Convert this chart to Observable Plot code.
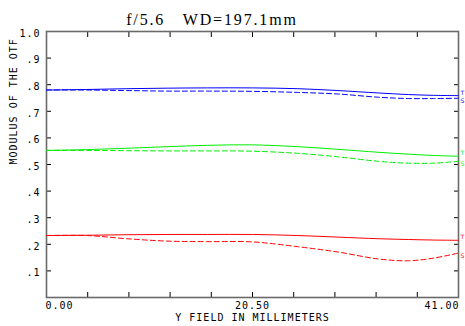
<!DOCTYPE html>
<html>
<head>
<meta charset="utf-8">
<script src="https://cdn.jsdelivr.net/npm/d3@7"></script>
<script src="https://cdn.jsdelivr.net/npm/@observablehq/plot@0.6"></script>
<style>
html,body{margin:0;padding:0;background:#fff;}
</style>
</head>
<body>
<div id="chart"></div>
<script>
const titleText = "f/5.6\u00a0\u00a0\u00a0WD=197.1mm";
const xTitle = "Y FIELD IN MILLIMETERS";
const yTitle = "MODULUS OF THE OTF";

const field = [0, 4, 8, 12, 16, 20.5, 25, 29, 33, 36, 38.5, 41];
const blueSolid  = [0.780, 0.782, 0.785, 0.787, 0.788, 0.788, 0.785, 0.778, 0.769, 0.763, 0.760, 0.759];
const blueDashed = [0.780, 0.780, 0.778, 0.776, 0.776, 0.775, 0.771, 0.765, 0.753, 0.748, 0.748, 0.749];
const greenSolid  = [0.553, 0.556, 0.561, 0.567, 0.572, 0.574, 0.567, 0.557, 0.546, 0.539, 0.534, 0.531];
const greenDashed = [0.553, 0.553, 0.552, 0.551, 0.551, 0.550, 0.542, 0.529, 0.512, 0.505, 0.505, 0.512];
const redSolid  = [0.233, 0.234, 0.236, 0.237, 0.237, 0.237, 0.233, 0.227, 0.221, 0.218, 0.216, 0.215];
const redDashed = [0.233, 0.233, 0.221, 0.212, 0.210, 0.209, 0.191, 0.171, 0.145, 0.138, 0.148, 0.167];

const xTicks = d3.range(0, 11).map(i => i * 4.1);
const xLabels = [0, 20.5, 41];
const yTicks = d3.range(0, 11).map(i => i / 10);
const yLabels = [1.0, 0.9, 0.8, 0.7, 0.6, 0.5, 0.4, 0.3, 0.2, 0.1];

const series = [
  {name: "blue T", color: "#0000ff", dash: null, values: blueSolid, tag: "T"},
  {name: "blue S", color: "#0000ff", dash: "5,3", values: blueDashed, tag: "S"},
  {name: "green T", color: "#00ee00", dash: null, values: greenSolid, tag: "T"},
  {name: "green S", color: "#00ee00", dash: "5,3", values: greenDashed, tag: "S"},
  {name: "red T", color: "#ff0000", dash: null, values: redSolid, tag: "T"},
  {name: "red S", color: "#ff0000", dash: "5,3", values: redDashed, tag: "S"}
];

const fmtX = d3.format(".2f");
const fmtY = v => v === 1 ? "1.0" : "." + Math.round(v * 10);

const lineMarks = series.map(s => Plot.line(field.map((f, i) => ({x: f, y: s.values[i]})), {
  x: "x", y: "y", stroke: s.color, strokeWidth: 1, strokeDasharray: s.dash, curve: "catmull-rom"
}));
const endMarks = series.map(s => Plot.text([{x: 41, y: s.values[s.values.length - 1], t: s.tag}], {
  x: "x", y: "y", text: "t", fill: s.color, dx: 2, dy: s.dash ? 3 : -3, textAnchor: "start", fontSize: 6,
  fontFamily: "'DejaVu Sans', sans-serif"
}));

const chart = Plot.plot({
  width: 465,
  height: 326,
  marginLeft: 46,
  marginRight: 7,
  marginTop: 31,
  marginBottom: 29,
  x: {domain: [0, 41]},
  y: {domain: [0, 1]},
  style: {background: "white", fontFamily: "'DejaVu Sans Mono', monospace", fontSize: "10px", letterSpacing: "1px", overflow: "visible"},
  marks: [
    Plot.axisX(xTicks, {anchor: "bottom", tickSize: -5, tickFormat: () => "", label: null, stroke: "#000"}),
    Plot.axisX(xTicks, {anchor: "top", tickSize: -5, tickFormat: () => "", label: null, stroke: "#000"}),
    Plot.axisY(yTicks, {anchor: "left", tickSize: -5, tickFormat: () => "", label: null, stroke: "#000"}),
    Plot.axisY(yTicks, {anchor: "right", tickSize: -5, tickFormat: () => "", label: null, stroke: "#000"}),
    Plot.frame({stroke: "#6a6a6a", strokeWidth: 1.6}),
    ...lineMarks,
    ...endMarks,
    Plot.text(xLabels.slice(0, 1), {x: d => d, text: fmtX, frameAnchor: "bottom", textAnchor: "start", dy: 11, fill: "#000", dx: -1}),
    Plot.text(xLabels.slice(1, 2), {x: d => d, text: fmtX, frameAnchor: "bottom", textAnchor: "middle", dy: 11, fill: "#000"}),
    Plot.text(xLabels.slice(2, 3), {x: d => d, text: fmtX, frameAnchor: "bottom", textAnchor: "end", dy: 11, fill: "#000", dx: 1}),
    Plot.text(yLabels, {y: d => d, text: fmtY, frameAnchor: "left", textAnchor: "end", dx: -6, dy: 2, fill: "#000"}),
    Plot.text([xTitle], {frameAnchor: "bottom", dy: 23, fill: "#000"}),
    Plot.text([yTitle], {frameAnchor: "left", rotate: -90, dx: -33, dy: 0, fill: "#000"})
  ]
});

const svg = d3.select(chart);
svg.append("text")
  .attr("x", 212)
  .attr("y", 19)
  .attr("text-anchor", "middle")
  .attr("dominant-baseline", "central")
  .attr("font-family", "'Liberation Serif', 'DejaVu Serif', serif")
  .attr("font-size", 16)
  .attr("letter-spacing", "1.85px")
  .attr("fill", "#000")
  .text(titleText);

document.getElementById("chart").appendChild(chart);
</script>
</body>
</html>
